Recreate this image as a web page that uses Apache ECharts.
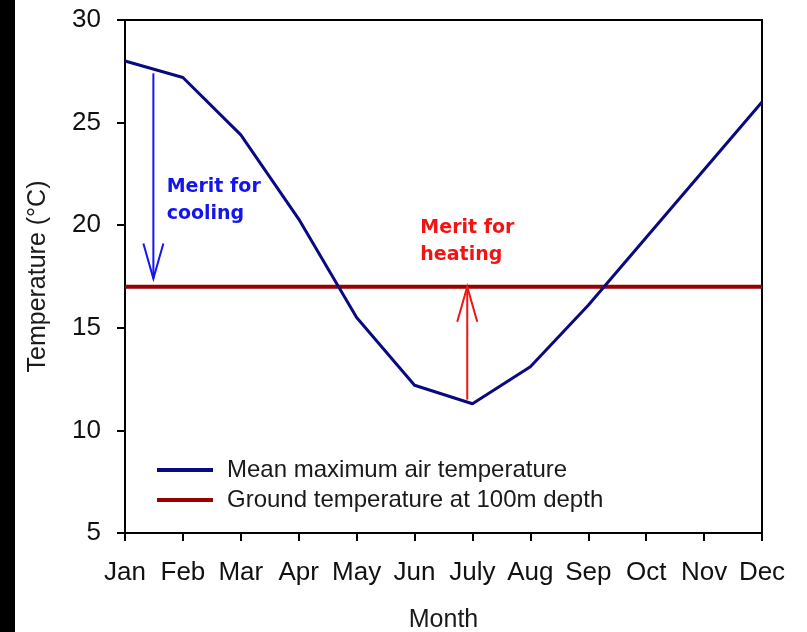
<!DOCTYPE html>
<html lang="en">
<head>
    <meta charset="UTF-8">
    <title>Merit for cooling and heating</title>
    <script type="text/javascript" src="https://cdn.jsdelivr.net/npm/echarts@6/dist/echarts.min.js"></script>
    <style>
        html, body {
            margin: 0;
            padding: 0;
            background: #000;
        }
        #chart {
            position: absolute;
            left: 15px;
            top: 0;
            width: 792px;
            height: 632px;
            background: #fff;
        }
    </style>
</head>
<body>
<div id="chart"></div>

<script>
    // data
    var months = ['Jan', 'Feb', 'Mar', 'Apr', 'May', 'Jun', 'July', 'Aug', 'Sep', 'Oct', 'Nov', 'Dec'];
    var airTemp = [28.0, 27.2, 24.4, 20.3, 15.5, 12.2, 11.3, 13.1, 16.1, 19.4, 22.7, 26.0];
    var groundTemp = [17, 17, 17, 17, 17, 17, 17, 17, 17, 17, 17, 17];
    var yTicks = [5, 10, 15, 20, 25, 30];

    // arrows: [month position, from value, to value]
    var coolingArrow = [0.49, 27.4, 17.4];
    var heatingArrow = [5.91, 11.5, 17.0];
    // annotation anchor: [month position, value]
    var coolingLabel = [0.72, 21.2];
    var heatingLabel = [5.1, 19.2];

    var myChart = echarts.init(document.getElementById('chart'));

    function arrowItem(color) {
        return function (params, api) {
            var p0 = api.coord([api.value(0), api.value(1)]);
            var p1 = api.coord([api.value(0), api.value(2)]);
            var dir = p1[1] > p0[1] ? 1 : -1;
            var hl = 35, hw = 10;
            return {
                type: 'group',
                children: [{
                    type: 'line',
                    shape: {x1: p0[0], y1: p0[1], x2: p1[0], y2: p1[1]},
                    style: {stroke: color, lineWidth: 2}
                }, {
                    type: 'polyline',
                    shape: {points: [[p1[0] - hw, p1[1] - dir * hl], [p1[0], p1[1]], [p1[0] + hw, p1[1] - dir * hl]]},
                    style: {stroke: color, fill: null, lineWidth: 2}
                }]
            };
        };
    }

    function textItem(text, color) {
        return function (params, api) {
            var p = api.coord([api.value(0), api.value(1)]);
            return {
                type: 'text',
                style: {
                    text: text,
                    x: p[0],
                    y: p[1],
                    fill: color,
                    font: 'bold 19px "DejaVu Sans"',
                    lineHeight: 27,
                    align: 'left',
                    verticalAlign: 'middle'
                }
            };
        };
    }

    var option = {
        backgroundColor: '#fff',
        animation: false,
        textStyle: {fontFamily: 'Liberation Sans, Arial, sans-serif'},
        grid: {
            left: 110,
            right: 45,
            top: 20,
            bottom: 99,
            containLabel: false,
            outerBoundsMode: 'none',
            show: true,
            borderColor: '#000',
            borderWidth: 2
        },
        legend: {
            left: 142,
            top: 458,
            orient: 'vertical',
            padding: 0,
            icon: 'rect',
            itemWidth: 56,
            itemHeight: 4,
            itemGap: 6,
            data: ['Mean maximum air temperature', 'Ground temperature at 100m depth'],
            textStyle: {
                color: '#1a1a1a',
                fontSize: 24,
                padding: [0, 0, 0, 9]
            }
        },
        xAxis: [{
            type: 'category',
            data: months,
            boundaryGap: false,
            name: 'Month',
            nameLocation: 'middle',
            nameGap: 75,
            nameTextStyle: {color: '#1a1a1a', fontSize: 25},
            axisLine: {show: true, lineStyle: {color: '#000', width: 2}},
            axisTick: {show: true, length: 8, interval: 0, lineStyle: {color: '#000', width: 2}},
            axisLabel: {color: '#111', fontSize: 26, margin: 27, interval: 0},
            splitLine: {show: false}
        }, {
            type: 'value',
            min: 0,
            max: 11,
            show: false
        }],
        yAxis: {
            type: 'value',
            min: yTicks[0],
            max: yTicks[yTicks.length - 1],
            interval: 5,
            name: 'Temperature (°C)',
            nameLocation: 'middle',
            nameGap: 74,
            nameTextStyle: {color: '#1a1a1a', fontSize: 25},
            axisLine: {show: true, lineStyle: {color: '#000', width: 2}},
            axisTick: {show: true, length: 8, lineStyle: {color: '#000', width: 2}},
            axisLabel: {color: '#111', fontSize: 26, margin: 24},
            splitLine: {show: false}
        },
        series: [
            {
                name: 'Ground temperature at 100m depth',
                type: 'line',
                data: groundTemp,
                symbol: 'none',
                z: 3,
                lineStyle: {color: '#990000', width: 4},
                itemStyle: {color: '#990000'}
            },
            {
                name: 'Mean maximum air temperature',
                type: 'line',
                data: airTemp,
                symbol: 'none',
                z: 4,
                lineStyle: {color: '#0a0a80', width: 3},
                itemStyle: {color: '#0a0a80'}
            },
            {
                type: 'custom',
                xAxisIndex: 1,
                renderItem: arrowItem('#1414f0'),
                data: [coolingArrow],
                z: 5
            },
            {
                type: 'custom',
                xAxisIndex: 1,
                renderItem: arrowItem('#f01414'),
                data: [heatingArrow],
                z: 5
            },
            {
                type: 'custom',
                xAxisIndex: 1,
                renderItem: textItem('Merit for\ncooling', '#1414f0'),
                data: [coolingLabel],
                z: 6
            },
            {
                type: 'custom',
                xAxisIndex: 1,
                renderItem: textItem('Merit for\nheating', '#f01414'),
                data: [heatingLabel],
                z: 6
            }
        ]
    };
    myChart.setOption(option);
</script>
</body>
</html>
